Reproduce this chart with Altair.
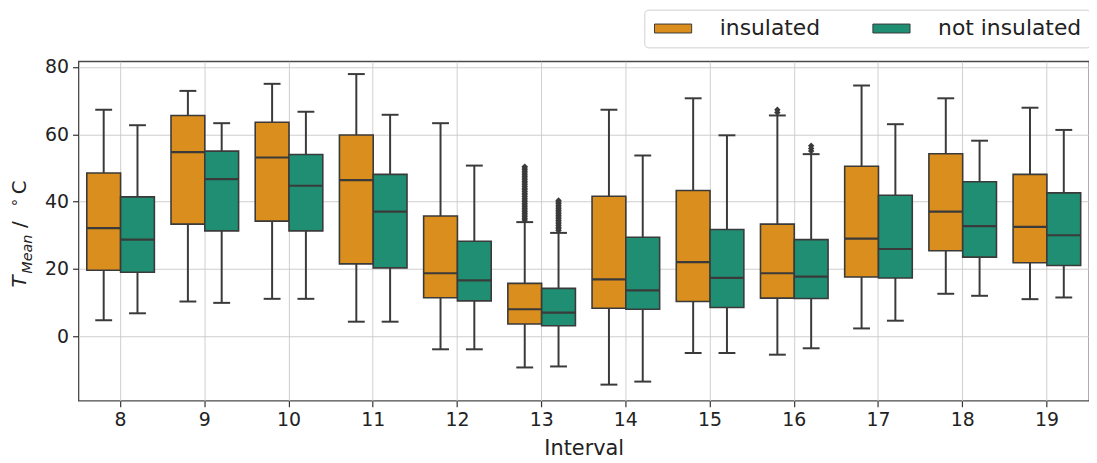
import altair as alt
import pandas as pd

intervals = [8, 9, 10, 11, 12, 13, 14, 15, 16, 17, 18, 19]
groups = ["insulated", "not insulated"]
colors = ["#DA8E1E", "#1F8E73"]

ins_hi = [67.3, 72.9, 75.0, 77.9, 63.3, 33.9, 67.3, 70.7, 65.6, 74.5, 70.7, 67.9]
ins_q3 = [48.5, 65.6, 63.6, 59.8, 35.7, 15.7, 41.6, 43.3, 33.3, 50.5, 54.2, 48.1]
ins_med = [32.1, 54.7, 53.1, 46.4, 18.7, 8.0, 16.9, 22.0, 18.7, 29.0, 37.0, 32.5]
ins_q1 = [19.6, 33.3, 34.2, 21.5, 11.4, 3.6, 8.3, 10.3, 11.3, 17.6, 25.4, 21.8]
ins_lo = [4.7, 10.3, 11.1, 4.3, -3.9, -9.3, -14.4, -5.0, -5.5, 2.3, 12.6, 11.0]

not_hi = [62.7, 63.3, 66.7, 65.8, 50.7, 30.7, 53.7, 59.7, 54.1, 63.0, 58.1, 61.3]
not_q3 = [41.4, 55.0, 54.0, 48.1, 28.2, 14.2, 29.4, 31.7, 28.7, 41.9, 45.9, 42.6]
not_med = [28.7, 46.7, 44.7, 37.0, 16.6, 7.0, 13.6, 17.3, 17.7, 25.9, 32.7, 30.0]
not_q1 = [19.0, 31.3, 31.3, 20.3, 10.5, 3.1, 8.0, 8.5, 11.2, 17.3, 23.5, 21.0]
not_lo = [6.8, 9.9, 11.1, 4.3, -3.9, -9.0, -13.5, -5.0, -3.6, 4.6, 12.0, 11.5]

out13_ins = [34.5, 35.0, 35.5, 36.0, 36.5, 37.0, 37.5, 38.0, 38.5, 39.0, 39.5, 40.0,
             40.5, 41.0, 41.5, 42.0, 42.5, 43.0, 43.5, 44.0, 44.5, 45.0, 45.5, 46.0,
             46.5, 47.0, 47.5, 48.0, 48.5, 49.0, 49.5, 50.0, 50.4]
out13_not = [31.4, 31.9, 32.4, 32.9, 33.4, 33.9, 34.4, 34.9, 35.4, 35.9, 36.4, 36.9,
             37.4, 37.9, 38.4, 38.9, 39.4, 39.9, 40.3]
out16_ins = [66.5, 67.3]
out16_not = [55.0, 55.8, 56.6]

rows = []
for i, iv in enumerate(intervals):
    rows.append(dict(Interval=iv, Group=groups[0], lo=ins_lo[i], q1=ins_q1[i],
                     med=ins_med[i], q3=ins_q3[i], hi=ins_hi[i]))
    rows.append(dict(Interval=iv, Group=groups[1], lo=not_lo[i], q1=not_q1[i],
                     med=not_med[i], q3=not_q3[i], hi=not_hi[i]))
df = pd.DataFrame(rows)

orows = []
for v in out13_ins:
    orows.append(dict(Interval=13, Group=groups[0], value=v))
for v in out13_not:
    orows.append(dict(Interval=13, Group=groups[1], value=v))
for v in out16_ins:
    orows.append(dict(Interval=16, Group=groups[0], value=v))
for v in out16_not:
    orows.append(dict(Interval=16, Group=groups[1], value=v))
odf = pd.DataFrame(orows)

DARK = "#3a3a3a"
TXT = "#222222"
ydom = [-19.2, 81.7]

xenc = alt.X("Interval:O", sort=intervals,
             scale=alt.Scale(paddingInner=0, paddingOuter=0),
             axis=alt.Axis(title="Interval", labelAngle=0, grid=True))
xoff = alt.XOffset("Group:N", sort=groups,
                   scale=alt.Scale(paddingOuter=0.246, paddingInner=0))
yscale = alt.Scale(domain=ydom, nice=False, zero=False)

base = alt.Chart(df).encode(x=xenc, xOffset=xoff)

whisk = base.mark_rule(color=DARK, strokeWidth=2).encode(
    y=alt.Y("lo:Q", scale=yscale,
            axis=alt.Axis(title=None, values=[0, 20, 40, 60, 80], grid=True)),
    y2="hi:Q")

box = base.mark_bar(stroke=DARK, strokeWidth=1.6, opacity=1).encode(
    y=alt.Y("q1:Q", scale=yscale),
    y2="q3:Q",
    color=alt.Color("Group:N", sort=groups,
                    scale=alt.Scale(domain=groups, range=colors),
                    legend=alt.Legend(title=None, orient="none", direction="horizontal",
                                      legendX=570, legendY=-52)))

med = base.mark_tick(color=DARK, size=34, thickness=2.2, opacity=1).encode(
    y=alt.Y("med:Q", scale=yscale))
caplo = base.mark_tick(color=DARK, size=17, thickness=2, opacity=1).encode(
    y=alt.Y("lo:Q", scale=yscale))
caphi = base.mark_tick(color=DARK, size=17, thickness=2, opacity=1).encode(
    y=alt.Y("hi:Q", scale=yscale))

outl = alt.Chart(odf).mark_point(shape="diamond", filled=True, color=DARK,
                                 size=42, opacity=1).encode(
    x=xenc, xOffset=xoff, y=alt.Y("value:Q", scale=yscale))

tdf = pd.DataFrame({"a": [1]})


def ttext(s, x, y, size, italic=False):
    kw = dict(text=s, angle=270, align="left", baseline="alphabetic",
              fontSize=size, font="DejaVu Sans", color=TXT)
    if italic:
        kw["fontStyle"] = "italic"
    return alt.Chart(tdf).mark_text(**kw).encode(x=alt.value(x), y=alt.value(y))


tT = ttext("T", -53, 228, 20, italic=True)
tM = ttext("Mean", -47, 214, 14.5, italic=True)
tS = ttext("/", -53, 168, 20)
tD = ttext("°", -56, 146, 15)
tC = ttext("C", -53, 134, 20)

chart = alt.layer(whisk, box, med, caplo, caphi, outl, tT, tM, tS, tD, tC).properties(
    width=1018, height=342,
    autosize=alt.AutoSizeParams(type="none"),
    padding={"left": 71, "top": 52, "right": 0, "bottom": 60},
).configure_view(
    stroke="#4a4a4a", strokeWidth=1.3
).configure_axis(
    domain=False, gridColor="#c9c9c9", gridWidth=1, gridOpacity=0.9,
    tickColor="#333333", tickSize=6, tickWidth=1.2,
    labelFont="DejaVu Sans", labelFontSize=19, labelColor=TXT,
    titleFont="DejaVu Sans", titleFontSize=21, titleFontWeight="normal",
    titleColor=TXT, labelPadding=4, zindex=1
).configure_axisX(
    titlePadding=8
).configure_legend(
    labelFont="DejaVu Sans", labelFontSize=22, labelColor=TXT,
    symbolType="M-1.87,-0.45H1.87V0.45H-1.87Z", symbolSize=400,
    symbolOffset=10,
    symbolStrokeColor="#3a3a3a", symbolStrokeWidth=1, symbolOpacity=1,
    labelOffset=36, columnPadding=50, padding=8,
    strokeColor="#d0d0d0", fillColor="white", cornerRadius=4
)

chart.save("out.html", embed_options={"renderer": "svg", "actions": False})
